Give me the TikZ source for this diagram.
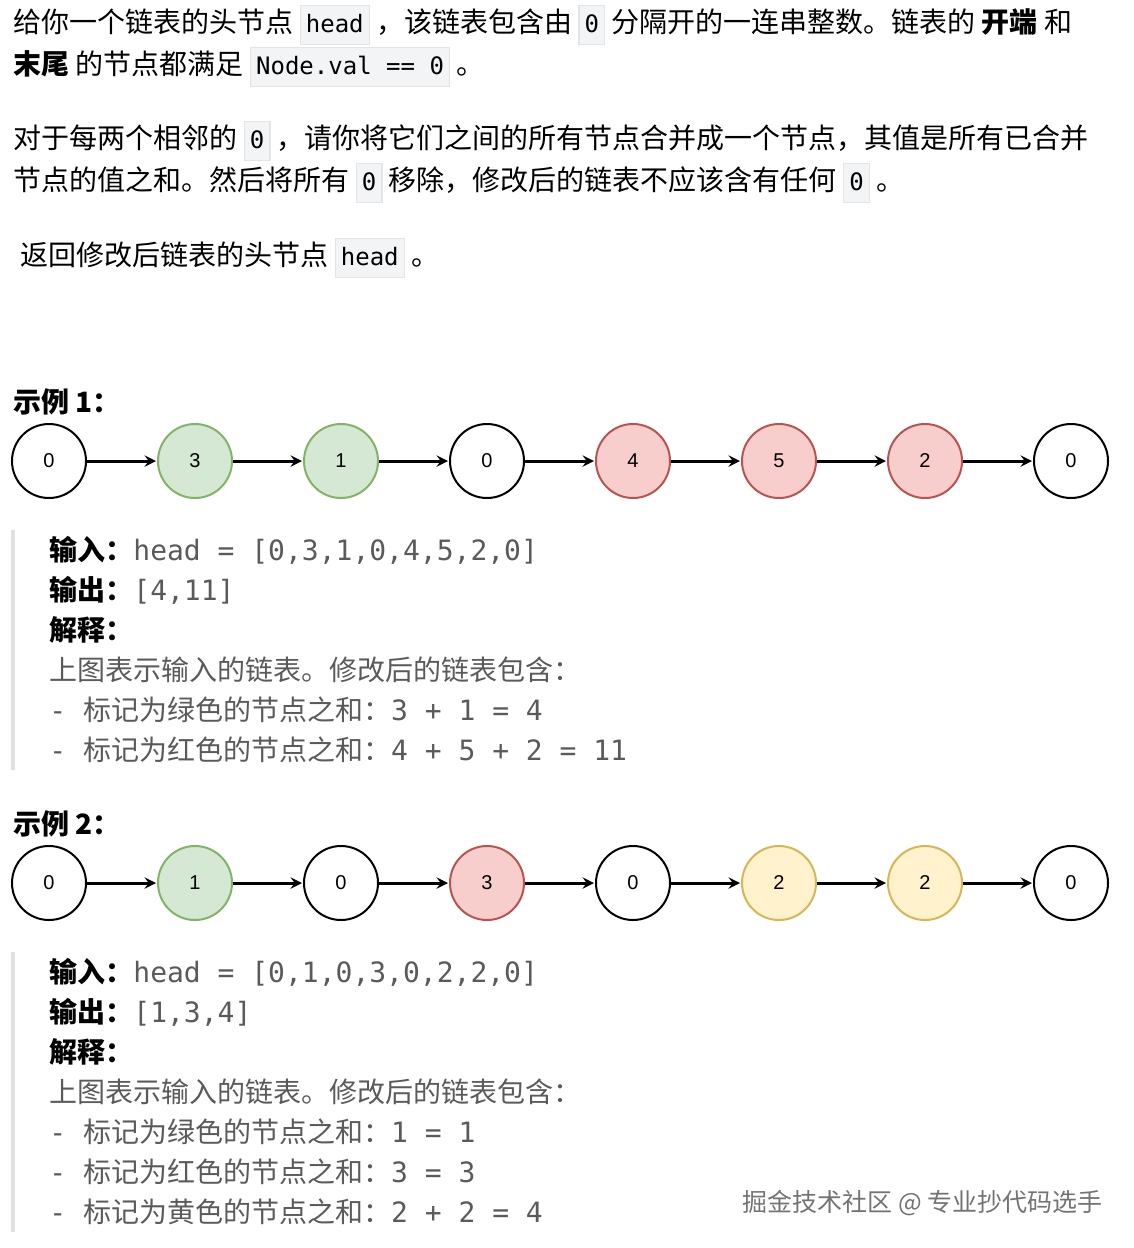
\documentclass[tikz,border=0pt]{standalone}
\usepackage{fontspec}
\setmainfont{Noto Sans CJK SC}
\setmonofont{DejaVu Sans Mono}
\newfontfamily\nodefont{Liberation Sans}
\usetikzlibrary{arrows}
\definecolor{codebg}{HTML}{F3F4F5}
\definecolor{codeline}{HTML}{E2E4E7}
\definecolor{greenfill}{HTML}{D5E8D4}
\definecolor{greenline}{HTML}{82B366}
\definecolor{redfill}{HTML}{F8CECC}
\definecolor{redline}{HTML}{B85450}
\definecolor{yellowfill}{HTML}{FFF2CC}
\definecolor{yellowline}{HTML}{D6B656}
\definecolor{softtext}{HTML}{5A5A5A}
\setlength{\fboxsep}{2.5pt}
\setlength{\fboxrule}{0.6pt}
\newcommand\cd[1]{\fcolorbox{codeline}{codebg}{\vphantom{Ag}\ttfamily\fontsize{12}{14}\selectfont #1}}
\tikzset{
    >=stealth,
    % one line of running text
    textline/.style={anchor=base west, inner sep=0pt, font=\fontsize{14}{16}\selectfont},
    % grey lines inside an example block
    blockline/.style={textline, text=softtext},
    % list nodes
    lnode/.style={draw, circle, line width=1pt, minimum size=37pt, inner sep=0pt,
        font=\nodefont\fontsize{10}{12}\selectfont, fill=white},
    plain/.style={},
    green/.style={fill=greenfill, draw=greenline},
    red/.style={fill=redfill, draw=redline},
    yellow/.style={fill=yellowfill, draw=yellowline},
    link/.style={->, line width=1.5pt, shorten >=0.5pt},
    quotebar/.style={draw=black!12, line width=2pt}}
\begin{document}
\begin{tikzpicture}[x=0.5pt, y=-0.5pt]
\useasboundingbox (0,0) rectangle (1134,1248);

% problem statement
\node[textline] (l1) at (13,32) {给你一个链表的头节点 \cd{head} ，该链表包含由 \cd{0} 分隔开的一连串整数。链表的 \textbf{开端} 和};
\node[textline] (l2) at (13,74) {\textbf{末尾} 的节点都满足 \cd{Node.val == 0} 。};
\node[textline] (l3) at (13,148) {对于每两个相邻的 \cd{0} ，请你将它们之间的所有节点合并成一个节点，其值是所有已合并};
\node[textline] (l4) at (13,190) {节点的值之和。然后将所有 \cd{0} 移除，修改后的链表不应该含有任何 \cd{0} 。};
\node[textline] (l5) at (20,265) {返回修改后链表的头节点 \cd{head} 。};

% example 1
\node[textline] (e1) at (13,412) {\textbf{示例 1：}};
\foreach \v/\s [count=\i] in {0/plain,3/green,1/green,0/plain,4/red,5/red,2/red,0/plain}
    \node[lnode,\s] (a\i) at ({49+146*(\i-1)},461) {\v};
\foreach \i in {1,...,7} {
    \pgfmathtruncatemacro\j{\i+1}
    \draw[link] (a\i) -- (a\j);
}
\draw[quotebar] (13,530) -- (13,770);
\node[blockline] (in1) at (49,560) {\textcolor{black}{\textbf{输入：}}\texttt{head = [0,3,1,0,4,5,2,0]}};
\node[blockline] (out1) at (49,600) {\textcolor{black}{\textbf{输出：}}\texttt{[4,11]}};
\node[blockline] (ex1) at (49,640) {\textcolor{black}{\textbf{解释：}}};
\node[blockline] (d1) at (49,680) {上图表示输入的链表。修改后的链表包含：};
\node[blockline] (d2) at (49,720) {\texttt{- }标记为绿色的节点之和：\texttt{3 + 1 = 4}};
\node[blockline] (d3) at (49,760) {\texttt{- }标记为红色的节点之和：\texttt{4 + 5 + 2 = 11}};

% example 2
\node[textline] (e2) at (13,834) {\textbf{示例 2：}};
\foreach \v/\s [count=\i] in {0/plain,1/green,0/plain,3/red,0/plain,2/yellow,2/yellow,0/plain}
    \node[lnode,\s] (b\i) at ({49+146*(\i-1)},883) {\v};
\foreach \i in {1,...,7} {
    \pgfmathtruncatemacro\j{\i+1}
    \draw[link] (b\i) -- (b\j);
}
\draw[quotebar] (13,952) -- (13,1232);
\node[blockline] (in2) at (49,982) {\textcolor{black}{\textbf{输入：}}\texttt{head = [0,1,0,3,0,2,2,0]}};
\node[blockline] (out2) at (49,1022) {\textcolor{black}{\textbf{输出：}}\texttt{[1,3,4]}};
\node[blockline] (ex2) at (49,1062) {\textcolor{black}{\textbf{解释：}}};
\node[blockline] (f1) at (49,1102) {上图表示输入的链表。修改后的链表包含：};
\node[blockline] (f2) at (49,1142) {\texttt{- }标记为绿色的节点之和：\texttt{1 = 1}};
\node[blockline] (f3) at (49,1182) {\texttt{- }标记为红色的节点之和：\texttt{3 = 3}};
\node[blockline] (f4) at (49,1222) {\texttt{- }标记为黄色的节点之和：\texttt{2 + 2 = 4}};

\node[textline, text=black!55, font=\fontsize{12.5}{14}\selectfont] (mark) at (742,1211) {掘金技术社区 @ 专业抄代码选手};
\end{tikzpicture}
\end{document}
